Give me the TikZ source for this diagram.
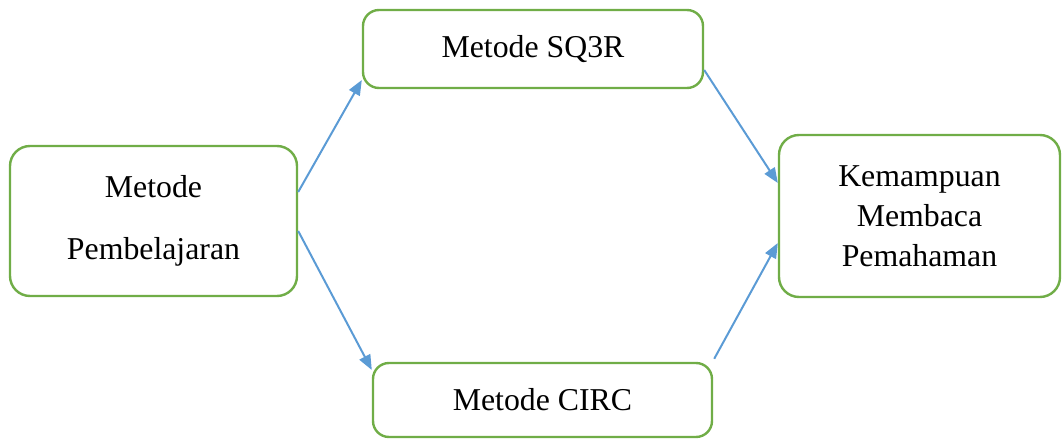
\documentclass[tikz,border=0pt]{standalone}
\usepackage{fontspec}
\setmainfont{Liberation Serif}
\usetikzlibrary{arrows.meta}
\definecolor{boxgreen}{HTML}{70AD47}
\definecolor{arrblue}{HTML}{5B9BD5}
\tikzset{
  mbox/.style={draw=boxgreen, line width=1.2pt, rounded corners=8pt, fill=white,
    align=center, inner sep=0pt, font=\fontsize{15.9}{20}\selectfont},
  conn/.style={draw=arrblue, line width=1pt, -{Triangle[length=7.5pt,width=6pt]}}
}
\begin{document}
\begin{tikzpicture}[x=0.5pt,y=-0.5pt]
\useasboundingbox (0,0) rectangle (1062,439);
\node[mbox, minimum width=170pt, minimum height=39pt] (sq3r) at (533,49) {Metode SQ3R};
\node[mbox, minimum width=143.5pt, minimum height=75pt, rounded corners=10pt,
      font=\fontsize{15.9}{31}\selectfont] (mp) at (153.5,221) {Metode\\Pembelajaran};
\node[mbox, minimum width=140.5pt, minimum height=81pt, rounded corners=10pt] (kmp) at (919.5,216) {Kemampuan\\Membaca\\Pemahaman};
\node[mbox, minimum width=169.5pt, minimum height=37pt] (circ) at (542.5,400) {Metode CIRC};
\draw[conn] ([yshift=14.5pt]mp.east) -- ([yshift=-15.5pt]sq3r.west);
\draw[conn] ([yshift=-5pt]mp.east) -- ([yshift=15pt]circ.west);
\draw[conn] ([yshift=-10.5pt]sq3r.east) -- ([yshift=16.5pt]kmp.west);
\draw[conn] ([xshift=0.5pt,yshift=1.5pt]circ.north east) -- ([yshift=-13.5pt]kmp.west);
\end{tikzpicture}
\end{document}
